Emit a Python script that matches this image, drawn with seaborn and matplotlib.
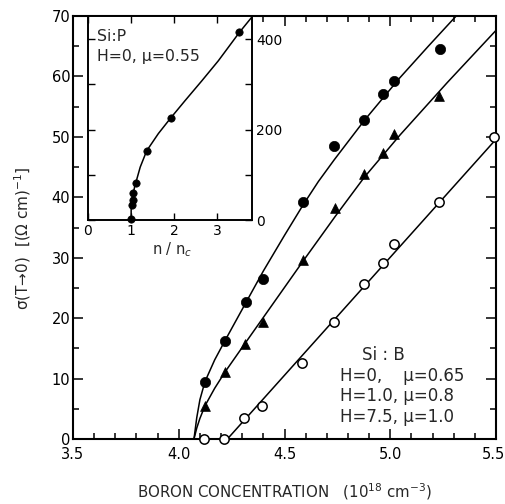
import matplotlib
matplotlib.use("Agg")
import matplotlib.pyplot as plt
import matplotlib.transforms as mtransforms
from matplotlib.ticker import MultipleLocator, FixedLocator
import seaborn as sns

# ---- data ----
# Si:B, H=0 (filled circles)
x_h0 = [4.124, 4.219, 4.318, 4.40, 4.589, 4.735, 4.877, 4.967, 5.019, 5.235]
y_h0 = [9.5, 16.3, 22.7, 26.5, 39.3, 48.5, 52.8, 57.1, 59.3, 64.6]
# Si:B, H=1.0 (filled triangles)
x_h1 = [4.124, 4.219, 4.313, 4.40, 4.589, 4.739, 4.877, 4.967, 5.019, 5.232]
y_h1 = [5.5, 11.1, 15.7, 19.3, 29.7, 38.2, 43.9, 47.4, 50.4, 56.8]
# Si:B, H=7.5 (open circles)
x_h75 = [4.121, 4.215, 4.31, 4.395, 4.581, 4.734, 4.876, 4.964, 5.019, 5.232, 5.492]
y_h75 = [0, 0, 3.5, 5.5, 12.6, 19.4, 25.7, 29.1, 32.2, 39.3, 49.9]

# fitted curves
fit_h0_x = [4.072, 4.085, 4.10, 4.124, 4.17, 4.219, 4.318, 4.40, 4.50, 4.589,
            4.66, 4.735, 4.877, 5.046, 5.18, 5.309]
fit_h0_y = [0, 3.5, 6.5, 9.5, 13.1, 16.3, 22.6, 27.8, 33.7, 38.8,
            42.6, 46.2, 52.7, 59.8, 65.0, 69.9]
fit_h1_x = [4.072, 4.085, 4.10, 4.124, 4.17, 4.219, 4.313, 4.45, 4.589, 4.739,
            4.877, 5.046, 5.27, 5.502]
fit_h1_y = [0, 1.8, 3.4, 5.5, 8.4, 11.1, 15.8, 22.6, 29.5, 36.8,
            43.3, 50.3, 59.0, 67.7]
fit_h75_x = [4.23, 5.50]
fit_h75_y = [0, 49.6]

# Inset Si:P
inset_x = [1.0, 1.03, 1.04, 1.05, 1.11, 1.36, 1.92, 3.51]
inset_y = [3, 33, 44, 60, 81, 153, 226, 415]
inset_fit_x = [1.0, 1.0, 1.08, 1.21, 1.36, 1.63, 1.92, 2.25, 2.64, 3.02, 3.51, 3.80]
inset_fit_y = [0, 37, 73, 117, 153, 191, 226, 264, 308, 352, 415, 449]

x_ticks = [3.5, 4.0, 4.5, 5.0, 5.5]
x_ticklabels = ["3.5", "4.0", "4.5", "5.0", "5.5"]
y_ticks = [0, 10, 20, 30, 40, 50, 60, 70]
inset_xticks = [0, 1, 2, 3]
inset_yticks = [0, 200, 400]

legend_lines = ["H=0,    \u03bc=0.65", "H=1.0, \u03bc=0.8", "H=7.5, \u03bc=1.0"]

# ---- figure ----
sns.set_theme(style="ticks")
plt.rcParams["font.family"] = ["DejaVu Sans"]
plt.rcParams["axes.linewidth"] = 1.5
plt.rcParams["axes.edgecolor"] = "black"

W, H = 506, 504
fig = plt.figure(figsize=(W / 100, H / 100), dpi=100)
ax = fig.add_axes([73 / W, 65 / H, 423 / W, 423 / H])

lw = 1.1
for fx, fy in [(fit_h0_x, fit_h0_y), (fit_h1_x, fit_h1_y), (fit_h75_x, fit_h75_y)]:
    sns.lineplot(x=fx, y=fy, ax=ax, color="black", lw=lw, sort=False,
                 estimator=None, legend=False)

sns.scatterplot(x=x_h0, y=y_h0, ax=ax, marker="o", color="black", s=55,
                edgecolor="black", linewidth=0.5, clip_on=False, zorder=5)
sns.scatterplot(x=x_h1, y=y_h1, ax=ax, marker="^", color="black", s=50,
                edgecolor="black", linewidth=0.5, clip_on=False, zorder=5)
sns.scatterplot(x=x_h75, y=y_h75, ax=ax, marker="o", facecolor="white", s=45,
                edgecolor="black", linewidth=1.1, clip_on=False, zorder=5)

ax.set_xlim(3.5, 5.5)
ax.set_ylim(0, 70)
ax.xaxis.set_major_locator(FixedLocator(x_ticks))
ax.set_xticklabels(x_ticklabels)
ax.xaxis.set_minor_locator(MultipleLocator(0.1))
ax.yaxis.set_major_locator(FixedLocator(y_ticks))
ax.yaxis.set_minor_locator(MultipleLocator(5))
ax.tick_params(which="both", direction="in", top=True, right=True,
               colors="black", labelsize=10.5, width=1.1)
ax.tick_params(which="major", length=7)
ax.tick_params(which="minor", length=4.5)
ax.tick_params(axis="x", pad=6)
ax.tick_params(axis="y", pad=2)
for s in ax.spines.values():
    s.set_linewidth(1.5)
    s.set_color("black")

# nudge the last x tick label so it stays inside the canvas
last = ax.get_xticklabels()[-1]
last.set_transform(last.get_transform() +
                   mtransforms.ScaledTranslation(-3 / 100, 0, fig.dpi_scale_trans))

ax.set_xlabel("BORON CONCENTRATION   (10$^{18}$ cm$^{-3}$)", fontsize=10.8)
ax.xaxis.set_label_coords(0.5, -0.099)
ax.set_ylabel("\u03c3(T\u21920)  [(\u03a9 cm)$^{-1}$]", fontsize=11)
ax.yaxis.set_label_coords(-0.094, 0.475)

ax.text(4.866, 13.9, "Si : B", fontsize=12, va="center", ha="left")
for i, t in enumerate(legend_lines):
    ax.text(4.762, 10.4 - 3.35 * i, t, fontsize=12, va="center", ha="left")

# ---- inset ----
axi = fig.add_axes([88 / W, (H - 220) / H, (252 - 88) / W, (220 - 16) / H])
axi.set_facecolor("white")
sns.lineplot(x=inset_fit_x, y=inset_fit_y, ax=axi, color="black", lw=1.1,
             sort=False, estimator=None, legend=False)
sns.scatterplot(x=inset_x, y=inset_y, ax=axi, marker="o", color="black", s=28,
                edgecolor="black", linewidth=0.5, clip_on=False, zorder=5)
axi.set_xlim(0, 3.8)
axi.set_ylim(0, 451)
axi.xaxis.set_major_locator(FixedLocator(inset_xticks))
axi.yaxis.set_major_locator(FixedLocator(inset_yticks))
axi.yaxis.set_minor_locator(MultipleLocator(100))
axi.tick_params(which="both", direction="in", top=True, right=True, left=True,
                labelleft=False, labelright=True, colors="black",
                labelsize=10, width=1.0)
axi.tick_params(which="major", length=5)
axi.tick_params(which="minor", length=5)
axi.tick_params(axis="x", pad=3)
axi.tick_params(axis="y", pad=3)
for s in axi.spines.values():
    s.set_linewidth(1.4)
    s.set_color("black")
axi.text(0.2, 405, "Si:P", fontsize=11.3, va="center", ha="left")
axi.text(0.22, 361, "H=0, \u03bc=0.55", fontsize=11.3, va="center", ha="left")
fig.text(172 / W, 1 - 250 / H, "n / n$_c$", fontsize=10.5, ha="center", va="center")

fig.savefig("out.png", dpi=100, facecolor="white")
